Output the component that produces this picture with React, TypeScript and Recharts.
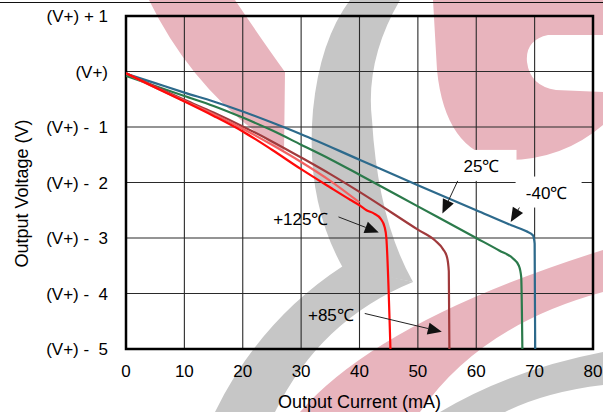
import React from "react";
import {
  LineChart,
  Line,
  XAxis,
  YAxis,
  CartesianGrid,
  ReferenceArea,
  ReferenceLine,
  ReferenceDot,
} from "recharts";

// axis ticks
const currentTicks = [0, 10, 20, 30, 40, 50, 60, 70, 80];
const voltageTicks = [-5, -4, -3, -2, -1, 0, 1];
const voltageTickLabels = [
  "(V+) -\u00a0\u00a05",
  "(V+) -\u00a0\u00a04",
  "(V+) -\u00a0\u00a03",
  "(V+) -\u00a0\u00a02",
  "(V+) -\u00a0\u00a01",
  "(V+)",
  "(V+) + 1",
];

// -40°C
const currentM40 = [0, 5, 10, 15, 20, 25, 30, 40, 50, 60, 66, 68.6, 69.7, 70.0, 70.1];
const voltageM40 = [-0.04, -0.21, -0.38, -0.54, -0.72, -0.92, -1.13, -1.59, -2.05, -2.5, -2.77, -2.88, -2.95, -3.1, -5];

// 25°C
const current25 = [0, 5, 10, 15, 20, 25, 30, 35, 40, 50, 60, 64, 66.3, 67.3, 67.7, 67.9];
const voltage25 = [-0.08, -0.26, -0.44, -0.62, -0.83, -1.06, -1.32, -1.58, -1.86, -2.43, -3.0, -3.23, -3.37, -3.5, -3.7, -5];

// +85°C
const current85 = [0, 5, 10, 15, 20, 25, 30, 35, 40, 50, 53, 54.3, 55.0, 55.3, 55.4];
const voltage85 = [-0.03, -0.27, -0.51, -0.74, -0.99, -1.26, -1.55, -1.85, -2.17, -2.85, -3.05, -3.2, -3.35, -3.6, -5];

// +125°C (two traces in the original, a light one and a solid one)
const current125b = [0, 5, 10, 15, 20, 25, 30, 35, 40];
const voltage125b = [-0.03, -0.29, -0.53, -0.77, -1.03, -1.32, -1.63, -1.97, -2.36];
const current125 = [0, 5, 10, 15, 20, 25, 30, 35, 38.4, 40, 41.2, 42.5, 43.6, 44.3, 44.6, 45.3];
const voltage125 = [-0.03, -0.29, -0.54, -0.8, -1.08, -1.41, -1.76, -2.09, -2.31, -2.41, -2.5, -2.56, -2.65, -2.8, -3.0, -5];

// annotations
const noteText = ["25℃", "-40℃", "+125℃", "+85℃"];
const noteCurrent = [60.9, 72.05, 29.95, 35.1];
const noteVoltage = [-1.71, -2.19, -2.66, -4.4];
const noteBoxed = [true, true, false, false];
const arrowFromCurrent = [57.5, 68.5, 36.4, 40.9];
const arrowFromVoltage = [-1.82, -2.26, -2.62, -4.36];
const arrowToCurrent = [54.2, 65.9, 43.3, 54.1];
const arrowToVoltage = [-2.56, -2.71, -2.9, -4.69];

const zip = (xs: number[], ys: number[]) =>
  xs.map((current, i) => ({ current, voltage: ys[i] }));

const series = [
  { name: "-40", data: zip(currentM40, voltageM40), color: "#2d6a8c" },
  { name: "25", data: zip(current25, voltage25), color: "#2b7a4b" },
  { name: "85", data: zip(current85, voltage85), color: "#a03a3c" },
  { name: "125b", data: zip(current125b, voltage125b), color: "#f26262" },
  { name: "125", data: zip(current125, voltage125), color: "#ff0a0a" },
];

const FONT = '"Liberation Sans", Arial, sans-serif';

const ArrowShape = (props: any) => {
  const { x1, y1, x2, y2 } = props;
  const dx = x2 - x1;
  const dy = y2 - y1;
  const len = Math.hypot(dx, dy) || 1;
  const ux = dx / len;
  const uy = dy / len;
  const hl = 14;
  const hw = 6;
  const bx = x2 - ux * hl;
  const by = y2 - uy * hl;
  return (
    <g>
      <line x1={x1} y1={y1} x2={bx} y2={by} stroke="#222" strokeWidth={1} />
      <polygon
        points={`${x2},${y2} ${bx - uy * hw},${by + ux * hw} ${bx + uy * hw},${by - ux * hw}`}
        fill="#111"
      />
    </g>
  );
};

const makeNote = (text: string, boxed: boolean) => (props: any) => {
  const { cx, cy } = props;
  return (
    <g>
      {boxed && <rect x={cx - 31} y={cy - 16.5} width={66} height={31} fill="#fff" />}
      <text
        x={cx}
        y={cy}
        textAnchor="middle"
        dominantBaseline="central"
        fontSize={17}
        fill="#000"
        fontFamily={FONT}
      >
        {text}
      </text>
    </g>
  );
};

const Watermark = () => (
  <svg width={603} height={412} style={{ position: "absolute", left: 0, top: 0 }}>
    <path d="M149,0 L235,0 Q262,40 285,72 L284,152 Q195,95 149,0 Z" fill="#e8b4bd" />
    <path
      d="M433,0 L603,0 L603,35 L548,35 Q525,40 527,62 Q530,86 556,90 L603,92 L603,125 Q560,162 500,160 Q445,150 437,70 Z"
      fill="#e8b4bd"
    />
    <path d="M300,412 Q380,320 603,250 L603,292 Q480,325 420,412 Z" fill="#e8b4bd" />
    <path
      d="M350,0 L400,0 Q365,60 372,120 Q378,220 413,282 L343,268 Q305,200 313,110 Q320,40 350,0 Z"
      fill="#c6c6c6"
    />
    <path d="M343,266 L413,282 Q320,320 275,412 L215,412 Q260,320 343,266 Z" fill="#c6c6c6" />
    <path d="M440,412 Q510,370 603,352 L603,385 Q545,392 505,412 Z" fill="#c6c6c6" />
    <line x1={0} x2={603} y1={2.5} y2={2.5} stroke="#111" strokeWidth={1.2} />
  </svg>
);

export default function App() {
  return (
    <div style={{ position: "absolute", left: 0, top: 0, width: 603, height: 412, background: "#fff" }}>
      <Watermark />
      <div style={{ position: "absolute", left: 0, top: 0 }}>
        <LineChart
          width={603}
          height={412}
          margin={{ top: 16, right: 10, left: 0, bottom: 0 }}
          style={{ fontFamily: FONT }}
        >
          <CartesianGrid stroke="#2a2a2a" strokeWidth={1.1} />
          <XAxis
            type="number"
            dataKey="current"
            domain={[0, 80]}
            ticks={currentTicks}
            interval={0}
            allowDataOverflow
            axisLine={false}
            tickLine={false}
            tickSize={0}
            tickMargin={16}
            height={63}
            tick={{ fontSize: 17, fill: "#000" }}
            label={{
              content: (p: any) => {
                const vb = p.viewBox;
                return (
                  <text
                    x={vb.x + vb.width / 2}
                    y={vb.y + vb.height - 4}
                    textAnchor="middle"
                    fontSize={18}
                    fill="#000"
                    fontFamily={FONT}
                  >
                    Output Current (mA)
                  </text>
                );
              },
            }}
          />
          <YAxis
            type="number"
            domain={[-5, 1]}
            ticks={voltageTicks}
            interval={0}
            allowDataOverflow
            width={126}
            axisLine={false}
            tickLine={false}
            tickSize={0}
            tickMargin={18}
            tick={{ fontSize: 17, fill: "#000" }}
            tickFormatter={(v: number) => voltageTickLabels[voltageTicks.indexOf(v)] ?? ""}
            label={{
              content: (p: any) => {
                const vb = p.viewBox;
                const cx = 22;
                const cy = vb.y + vb.height / 2 + 11;
                return (
                  <text
                    x={cx}
                    y={cy}
                    transform={`rotate(-90 ${cx} ${cy})`}
                    textAnchor="middle"
                    dominantBaseline="central"
                    fontSize={18}
                    fill="#000"
                    fontFamily={FONT}
                  >
                    Output Voltage (V)
                  </text>
                );
              },
            }}
          />
          {series.map((s) => (
            <Line
              key={s.name}
              data={s.data}
              dataKey="voltage"
              type="monotone"
              stroke={s.color}
              strokeWidth={2.2}
              dot={false}
              activeDot={false}
              isAnimationActive={false}
            />
          ))}
          {noteText.map((t, i) => (
            <ReferenceDot
              key={"note" + i}
              x={noteCurrent[i]}
              y={noteVoltage[i]}
              r={0}
              shape={makeNote(t, noteBoxed[i])}
            />
          ))}
          {noteText.map((t, i) => (
            <ReferenceLine
              key={"arrow" + i}
              segment={[
                { x: arrowFromCurrent[i], y: arrowFromVoltage[i] },
                { x: arrowToCurrent[i], y: arrowToVoltage[i] },
              ]}
              shape={ArrowShape}
            />
          ))}
          <ReferenceArea
            x1={0}
            x2={80}
            y1={-5}
            y2={1}
            fill="none"
            stroke="#000"
            strokeWidth={2.5}
          />
        </LineChart>
      </div>
    </div>
  );
}
